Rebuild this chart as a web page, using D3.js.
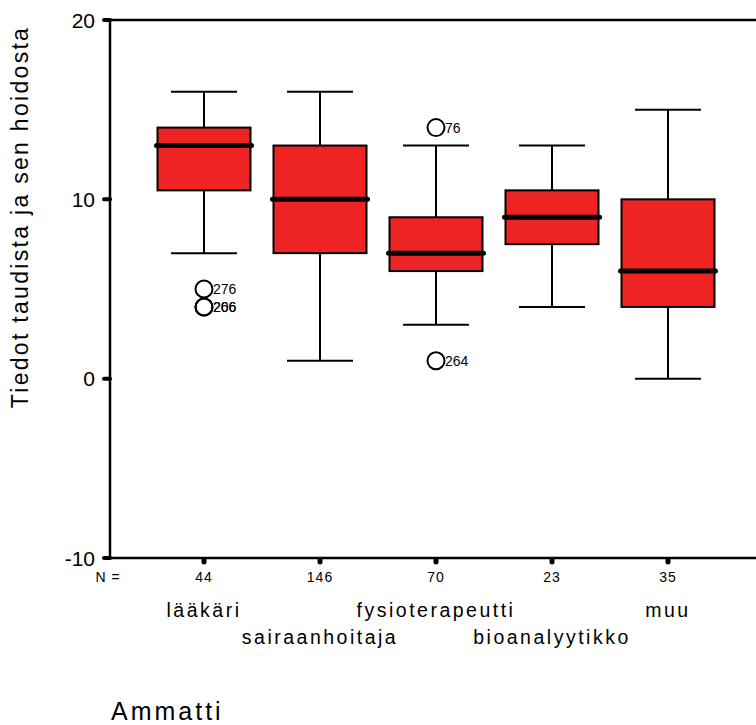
<!DOCTYPE html>
<html>
<head>
<meta charset="utf-8">
<script src="https://cdn.jsdelivr.net/npm/d3@7"></script>
<style>
  body { margin: 0; background: #fff; }
  svg { display: block; font-family: "Liberation Sans", Arial, sans-serif; }
</style>
</head>
<body>
<svg id="chart" width="756" height="725"></svg>
<script>
// --- data ---
const categories  = ['lääkäri', 'sairaanhoitaja', 'fysioterapeutti', 'bioanalyytikko', 'muu'];
const counts      = [44, 146, 70, 23, 35];
const whiskerLow  = [7, 1, 3, 4, 0];
const q1          = [10.5, 7, 6, 7.5, 4];
const median      = [13, 10, 7, 9, 6];
const q3          = [14, 13, 9, 10.5, 10];
const whiskerHigh = [16, 16, 13, 13, 15];

const outlierCat   = ['lääkäri', 'lääkäri', 'lääkäri', 'fysioterapeutti', 'fysioterapeutti'];
const outlierValue = [5, 4, 4, 14, 1];
const outlierLabel = ['276', '206', '266', '76', '264'];

const yTicks = [20, 10, 0, -10];

// --- layout ---
const svg = d3.select('#chart');
const plotL = 110, plotR = 762, plotT = 20, plotB = 558;
const boxW = 93, capW = 66;
const red = '#ee2424';

const x = d3.scalePoint().domain(categories).range([204, 668]);
const y = d3.scaleLinear().domain([-10, 20]).range([plotB, plotT]);

const boxes = categories.map((c, i) => ({
  cat: c, n: counts[i], lo: whiskerLow[i], q1: q1[i], med: median[i], q3: q3[i], hi: whiskerHigh[i]
}));

// frame lines
svg.append('line').attr('x1', plotL).attr('x2', plotR).attr('y1', plotT).attr('y2', plotT)
  .attr('stroke', '#000').attr('stroke-width', 2.5);
svg.append('line').attr('x1', plotL).attr('x2', plotR).attr('y1', plotB).attr('y2', plotB)
  .attr('stroke', '#000').attr('stroke-width', 2.5);
svg.append('line').attr('x1', plotL).attr('x2', plotL).attr('y1', plotT).attr('y2', plotB)
  .attr('stroke', '#000').attr('stroke-width', 2.5);

// y ticks + labels
const yt = svg.append('g');
yt.selectAll('line').data(yTicks).join('line')
  .attr('x1', 104).attr('x2', plotL).attr('y1', d => y(d)).attr('y2', d => y(d))
  .attr('stroke', '#000').attr('stroke-width', 4).attr('stroke-linecap', 'round');
yt.selectAll('text').data(yTicks).join('text')
  .attr('x', 95).attr('y', d => y(d)).attr('dy', '0.36em')
  .attr('text-anchor', 'end').attr('font-size', 21).text(d => d);

// x ticks (small dots under axis)
svg.append('g').selectAll('line').data(categories).join('line')
  .attr('x1', d => x(d)).attr('x2', d => x(d)).attr('y1', plotB + 2).attr('y2', plotB + 4)
  .attr('stroke', '#000').attr('stroke-width', 5).attr('stroke-linecap', 'round');

// N row
svg.append('text').attr('x', 108).attr('y', 582).attr('text-anchor', 'middle')
  .attr('font-size', 14).attr('letter-spacing', 1).text('N =');
svg.append('g').selectAll('text').data(boxes).join('text')
  .attr('x', d => x(d.cat)).attr('y', 582).attr('text-anchor', 'middle')
  .attr('font-size', 14).attr('letter-spacing', 1).text(d => d.n);

// category labels, alternating rows
svg.append('g').selectAll('text').data(categories).join('text')
  .attr('x', d => x(d)).attr('y', (d, i) => i % 2 ? 644 : 617)
  .attr('text-anchor', 'middle').attr('font-size', 19.5).attr('letter-spacing', 2.5)
  .text(d => d);

// boxes
const g = svg.append('g').selectAll('g').data(boxes).join('g');
g.append('line') // whisker stem
  .attr('x1', d => x(d.cat)).attr('x2', d => x(d.cat))
  .attr('y1', d => y(d.hi)).attr('y2', d => y(d.lo))
  .attr('stroke', '#000').attr('stroke-width', 2);
g.selectAll('line.cap').data(d => [d.hi, d.lo].map(v => ({ cat: d.cat, v }))).join('line')
  .attr('class', 'cap')
  .attr('x1', d => x(d.cat) - capW / 2).attr('x2', d => x(d.cat) + capW / 2)
  .attr('y1', d => y(d.v)).attr('y2', d => y(d.v))
  .attr('stroke', '#000').attr('stroke-width', 2);
g.append('rect')
  .attr('x', d => x(d.cat) - boxW / 2).attr('width', boxW)
  .attr('y', d => y(d.q3)).attr('height', d => y(d.q1) - y(d.q3))
  .attr('fill', red).attr('stroke', '#000').attr('stroke-width', 2);
g.append('line') // median
  .attr('x1', d => x(d.cat) - boxW / 2 - 1).attr('x2', d => x(d.cat) + boxW / 2 + 1)
  .attr('y1', d => y(d.med)).attr('y2', d => y(d.med))
  .attr('stroke', '#000').attr('stroke-width', 5).attr('stroke-linecap', 'round');

// outliers
const outliers = outlierValue.map((v, i) => ({ cat: outlierCat[i], v, label: outlierLabel[i] }));
const og = svg.append('g').selectAll('g').data(outliers).join('g');
og.append('text')
  .attr('x', d => x(d.cat) + 9).attr('y', d => y(d.v) + 5)
  .attr('font-size', 14).text(d => d.label);
og.append('circle')
  .attr('cx', d => x(d.cat)).attr('cy', d => y(d.v)).attr('r', 8.5)
  .attr('fill', 'none').attr('stroke', '#000').attr('stroke-width', 2);

// axis titles
svg.append('text')
  .attr('transform', 'translate(28,217) rotate(-90)')
  .attr('text-anchor', 'middle').attr('font-size', 23).attr('letter-spacing', 2.3)
  .text('Tiedot taudista ja sen hoidosta');
svg.append('text').attr('x', 111).attr('y', 720)
  .attr('font-size', 25).attr('letter-spacing', 3).text('Ammatti');
</script>
</body>
</html>
